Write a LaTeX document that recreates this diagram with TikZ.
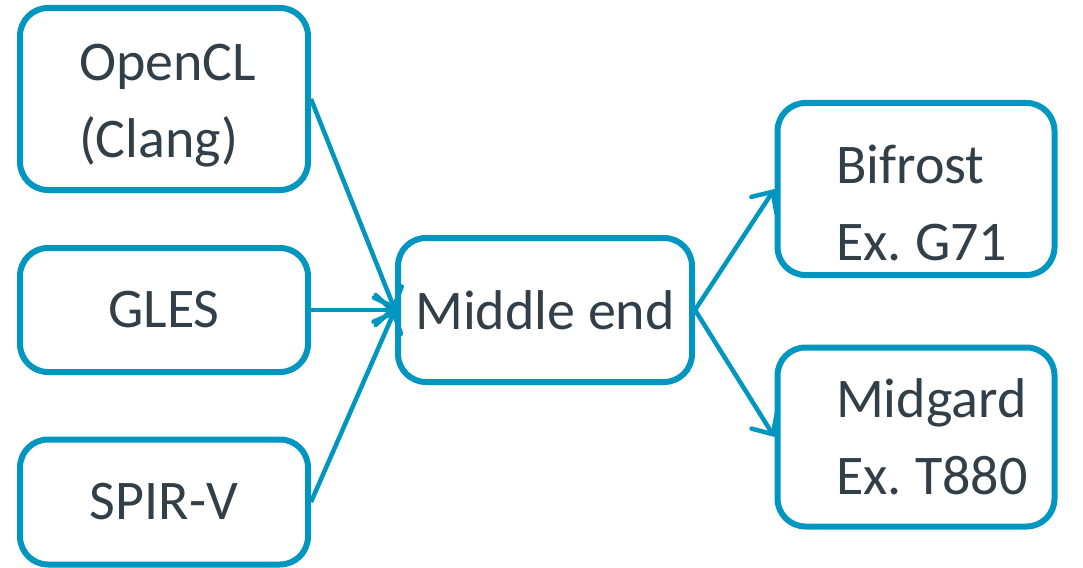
\documentclass[tikz,border=0pt]{standalone}
\usepackage{fontspec}
\setmainfont{Carlito}
\usetikzlibrary{arrows.meta,positioning,calc}
\definecolor{myBlue}{RGB}{0,150,192}
\definecolor{myText}{RGB}{51,63,72}
\hyphenpenalty=10000
\newcommand{\exsp}{\hspace{0.24em}}
\tikzset{
	cbox/.style={
		draw=myBlue,
		rounded corners=28pt,
		line width=6pt,
		align=left,
		inner sep=0pt,
		text=myText,
		font=\fontsize{56}{77}\selectfont
	},
	tbox/.style={cbox, text width=160pt},
	carr/.style={-{Straight Barb[length=16pt, width=30pt, line cap=round]}, line width=4.5pt, myBlue}
}
\begin{document}
\begin{tikzpicture}[x=1pt, y=-1pt]
		\useasboundingbox (0,0) rectangle (1083,567);
		\node[tbox, text width=170pt, minimum width=288pt, minimum height=182pt, text height=50pt] (ocl) at (164,99) {OpenCL\\(Clang)};
		\node[cbox, minimum width=288pt, minimum height=124pt] (gles) at (164,310) {GLES};
		\node[cbox, minimum width=288pt, minimum height=125pt] (spirv) at (164,502) {SPIR-V};
		\node[cbox, minimum width=294pt, minimum height=144pt] (mid) at (545,310) {Middle end};
		\node[tbox, minimum width=277pt, minimum height=172pt, text height=66pt] (bif) at (916,189) {Bifrost\\\mbox{Ex.\exsp G71}};
		\node[tbox, minimum width=277pt, minimum height=179pt] (mdg) at (916,437) {Midgard\\\mbox{Ex.\exsp T880}};
		\draw[carr] (ocl.east) -- (mid.west);
		\draw[carr] (gles.east) -- (mid.west);
		\draw[carr] (spirv.east) -- (mid.west);
		\draw[carr] (mid.east) -- (bif.west);
		\draw[carr] (mid.east) -- (mdg.west);
	\end{tikzpicture}
\end{document}
